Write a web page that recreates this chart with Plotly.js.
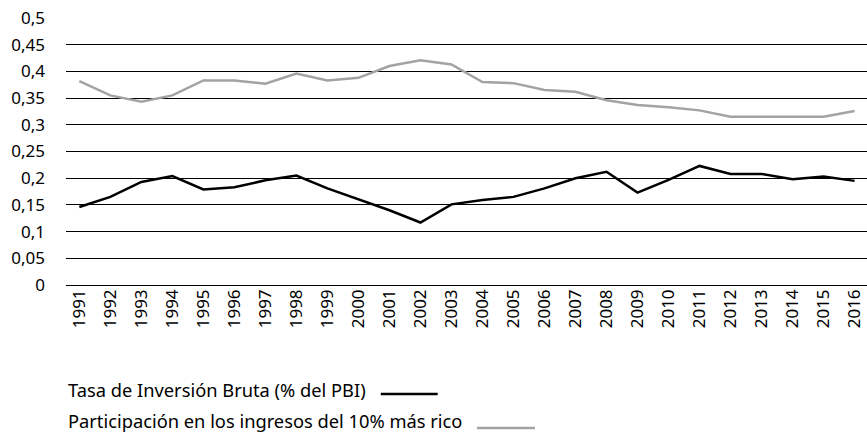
<!DOCTYPE html>
<html>
<head>
<meta charset="utf-8">
<script src="https://cdn.plot.ly/plotly-3.0.1.min.js"></script>
<style>html,body{margin:0;padding:0;background:#fff;}#chart{width:867px;height:432px;}</style>
</head>
<body>
<div id="chart"></div>
<script>
const years = ["1991","1992","1993","1994","1995","1996","1997","1998","1999","2000","2001","2002","2003","2004","2005","2006","2007","2008","2009","2010","2011","2012","2013","2014","2015","2016"];
const inversionName = "Tasa de Inversión Bruta (% del PBI)";
const inversion = [0.146,0.165,0.193,0.204,0.179,0.183,0.196,0.205,0.181,0.161,0.140,0.117,0.151,0.159,0.165,0.181,0.200,0.212,0.173,0.197,0.223,0.208,0.208,0.198,0.203,0.195];
const ingresosName = "Participación en los ingresos del 10% más rico";
const ingresos = [0.382,0.355,0.343,0.355,0.383,0.383,0.377,0.396,0.383,0.388,0.410,0.421,0.413,0.380,0.378,0.365,0.362,0.346,0.337,0.333,0.327,0.315,0.315,0.315,0.315,0.326];
const yTickVals = [0,0.05,0.1,0.15,0.2,0.25,0.3,0.35,0.4,0.45,0.5];
const yTickText = ["0","0,05","0,1","0,15","0,2","0,25","0,3","0,35","0,4","0,45","0,5"];

const FONT = "Noto Sans, Open Sans, sans-serif";
const FS = 17;
const LFS = 18.3;
const traces = [
  {x: years, y: ingresos, name: ingresosName, type: "scatter", mode: "lines",
   line: {color: "#a3a3a3", width: 2.5}},
  {x: years, y: inversion, name: inversionName, type: "scatter", mode: "lines",
   line: {color: "#000000", width: 2.5}}
];
const layout = {
  width: 867, height: 432,
  margin: {l: 66, r: 0, t: 18, b: 147},
  paper_bgcolor: "#fff", plot_bgcolor: "#fff",
  showlegend: false,
  font: {family: FONT, size: FS, color: "#000"},
  xaxis: {type: "category", range: [-0.43, 25.4], tickangle: -90,
          showgrid: false, zeroline: false, showline: false, ticks: "",
          tickfont: {family: FONT, size: FS, color: "#000"}},
  yaxis: {range: [0, 0.5], tickvals: yTickVals, ticktext: yTickText,
          showgrid: true, gridcolor: "#000", gridwidth: 1, zeroline: true, zerolinecolor: "#000", zerolinewidth: 1,
          showline: false, ticks: "", ticklabelstandoff: 20,
          tickfont: {family: FONT, size: FS, color: "#000"}},
  annotations: [
    {xref: "paper", yref: "paper", x: 0, y: -0.390, xanchor: "left", yanchor: "middle",
     text: inversionName, showarrow: false, font: {family: FONT, size: LFS, color: "#000"}},
    {xref: "paper", yref: "paper", x: 0, y: -0.509, xanchor: "left", yanchor: "middle",
     text: ingresosName, showarrow: false, font: {family: FONT, size: LFS, color: "#000"}}
  ],
  shapes: [
    {type: "line", xref: "paper", yref: "paper", x0: 0.393, x1: 0.464, y0: -0.408, y1: -0.408,
     line: {color: "#000", width: 2.5}},
    {type: "line", xref: "paper", yref: "paper", x0: 0.513, x1: 0.5855, y0: -0.536, y1: -0.536,
     line: {color: "#a3a3a3", width: 2.5}}
  ]
};
Plotly.newPlot("chart", traces, layout, {staticPlot: true, displayModeBar: false});
</script>
</body>
</html>
